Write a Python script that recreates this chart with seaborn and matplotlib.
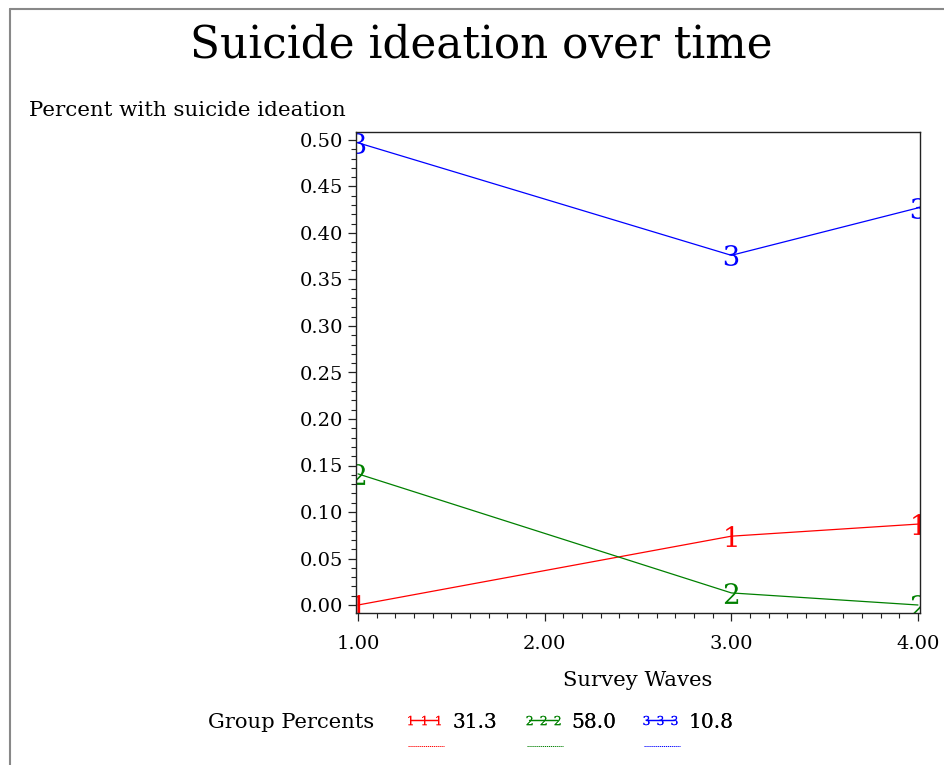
import matplotlib
matplotlib.use("Agg")
import matplotlib.pyplot as plt
from matplotlib.lines import Line2D
from matplotlib.ticker import MultipleLocator, FormatStrFormatter
import seaborn as sns
import pandas as pd

# Survey waves and group trajectories (proportion with suicide ideation)
waves = [1.0, 3.0, 4.0]
group_labels = ["31.3", "58.0", "10.8"]
group1 = [0.000, 0.074, 0.087]
group2 = [0.141, 0.013, 0.000]
group3 = [0.497, 0.376, 0.427]
colors = ["#FF0000", "#008000", "#0000FF"]
marker_glyphs = ["$1$", "$2$", "$3$"]
x_ticks = [1.0, 2.0, 3.0, 4.0]
y_ticks = [0.00, 0.05, 0.10, 0.15, 0.20, 0.25, 0.30, 0.35, 0.40, 0.45, 0.50]

df = pd.DataFrame({
    "wave": waves * 3,
    "value": group1 + group2 + group3,
    "group": [g for g in group_labels for _ in waves],
})

sns.set_style("ticks")
plt.rcParams["font.family"] = ["DejaVu Serif"]
plt.rcParams["mathtext.fontset"] = "dejavuserif"
for key in ["text.color", "axes.labelcolor", "xtick.color", "ytick.color"]:
    plt.rcParams[key] = "black"

fig = plt.figure(figsize=(9.44, 7.65), dpi=100)
ax = fig.add_axes([356 / 944, 1 - 613 / 765, 564 / 944, 481 / 765])

sns.lineplot(
    data=df, x="wave", y="value", hue="group", style="group",
    hue_order=group_labels, style_order=group_labels,
    palette=dict(zip(group_labels, colors)),
    markers=dict(zip(group_labels, marker_glyphs)),
    dashes=False, markersize=15, linewidth=0.9,
    markeredgewidth=0.0, ax=ax, legend=True,
)

handles, labels = ax.get_legend_handles_labels()
ax.get_legend().remove()

ax.set_xlim(1 - 2 / 186.67, 4 + 2 / 186.67)
ax.set_ylim(-8 / 930, 0.5 + 8 / 930)
ax.set_xticks(x_ticks)
ax.set_yticks(y_ticks)
ax.xaxis.set_major_formatter(FormatStrFormatter("%.2f"))
ax.yaxis.set_major_formatter(FormatStrFormatter("%.2f"))
ax.xaxis.set_minor_locator(MultipleLocator(0.1))
ax.yaxis.set_minor_locator(MultipleLocator(0.01))
ax.tick_params(which="major", length=6, width=0.9, labelsize=14, color="#222222")
ax.tick_params(which="minor", length=3.5, width=0.8, color="#222222")
ax.tick_params(axis="x", pad=10)
for s in ax.spines.values():
    s.set_visible(True)
    s.set_linewidth(1.0)
    s.set_color("#222222")
ax.set_xlabel("")
ax.set_ylabel("")

fig.text(0.510, 1 - 45 / 765, "Suicide ideation over time",
         ha="center", va="center", fontsize=31.5)
fig.text(29 / 944, 1 - 110 / 765, "Percent with suicide ideation",
         ha="left", va="center", fontsize=15.4)
fig.text(638 / 944, 1 - 681 / 765, "Survey Waves",
         ha="center", va="center", fontsize=15.2)
fig.text(208 / 944, 1 - 722 / 765, "Group Percents",
         ha="left", va="center", fontsize=15.2)

# legend entries laid out in a row
starts = [408, 527, 644]
for h, lab, x0, col in zip(handles, labels, starts, colors):
    leg = fig.legend([h], [lab], loc="center left",
                     bbox_to_anchor=((x0 - 4) / 944, 1 - 722 / 765),
                     frameon=False, numpoints=3, handlelength=2.0,
                     handletextpad=0.4, fontsize=14.5, markerscale=0.45,
                     borderaxespad=0, borderpad=0)
    fig.add_artist(leg)
    fig.add_artist(Line2D([x0 / 944, (x0 + 36) / 944],
                          [1 - 746 / 765, 1 - 746 / 765],
                          transform=fig.transFigure, color=col,
                          linewidth=0.7, linestyle=(0, (1.2, 0.8))))

# page border
fig.add_artist(Line2D([9.5 / 944, 1.0], [1 - 8.5 / 765, 1 - 8.5 / 765],
                      transform=fig.transFigure, color="#888888", linewidth=1.5))
fig.add_artist(Line2D([9.5 / 944, 9.5 / 944], [0.0, 1 - 8.5 / 765],
                      transform=fig.transFigure, color="#888888", linewidth=1.5))

fig.savefig("out.png", dpi=100)
